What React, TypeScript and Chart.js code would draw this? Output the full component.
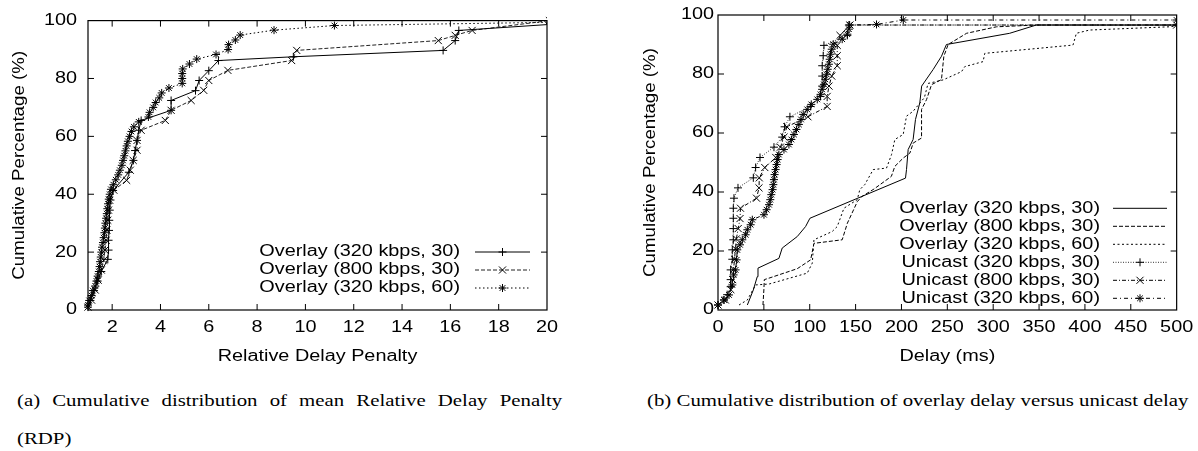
import React, { useEffect, useRef } from 'react';
import { Chart, registerables } from 'chart.js';
import { drawPoint } from 'chart.js/helpers';

Chart.register(...registerables);

type Pt = [number, number];

// ---------- tick values ----------
const RDP_TICKS = [2, 4, 6, 8, 10, 12, 14, 16, 18, 20];
const PCT_TICKS = [0, 20, 40, 60, 80, 100];
const DELAY_TICKS = [0, 50, 100, 150, 200, 250, 300, 350, 400, 450, 500];

// ---------- (a) Relative Delay Penalty CDF ----------
const RDP_320_30: Pt[] = [
  [1.0, 1.0], [1.1, 3.3], [1.25, 6.7], [1.4, 10.0], [1.55, 13.3], [1.82, 17.5], [1.85, 20.7], [1.85, 24.1],
  [1.87, 27.5], [1.88, 31.0], [1.9, 34.5], [1.93, 38.0], [2.04, 41.3], [2.69, 47.6], [2.88, 51.7], [2.95, 55.1],
  [3.03, 58.6], [3.1, 62.1], [3.2, 65.5], [4.44, 69.0], [4.44, 72.4], [5.45, 75.8], [5.6, 79.3], [6.0, 82.7],
  [6.4, 86.2], [9.5, 87.5], [15.7, 89.7], [16.2, 93.1], [16.35, 96.6], [22.5, 100],
];
const RDP_800_30: Pt[] = [
  [1.0, 1.0], [1.15, 3.4], [1.3, 6.9], [1.42, 10.3], [1.55, 13.8], [1.65, 17.2], [1.7, 20.7], [1.75, 24.1],
  [1.78, 27.6], [1.82, 31.0], [1.85, 34.5], [1.9, 37.9], [2.07, 41.4], [2.6, 44.8], [2.75, 48.3], [2.87, 51.7],
  [3.03, 55.2], [3.03, 58.6], [3.2, 62.1], [4.2, 65.5], [4.44, 69.0], [5.27, 72.4], [5.79, 75.9], [6.0, 79.3],
  [6.79, 82.8], [9.43, 86.2], [9.64, 89.7], [15.5, 93.1], [16.2, 94.9], [16.9, 96.6], [20.1, 100],
];
const RDP_320_60: Pt[] = [
  [1.0, 1.7], [1.05, 3.3], [1.15, 5.0], [1.2, 6.7], [1.3, 8.3], [1.35, 10.0], [1.4, 11.7], [1.45, 13.3],
  [1.48, 15.0], [1.5, 16.7], [1.53, 18.3], [1.55, 20.0], [1.58, 21.7], [1.62, 23.3], [1.65, 25.0], [1.68, 26.7],
  [1.7, 28.3], [1.72, 30.0], [1.75, 31.7], [1.78, 33.3], [1.8, 35.0], [1.83, 36.7], [1.86, 38.3], [1.9, 40.0],
  [1.95, 41.7], [2.05, 43.3], [2.15, 45.0], [2.25, 46.7], [2.32, 48.3], [2.4, 50.0], [2.45, 51.7], [2.5, 53.3],
  [2.55, 55.0], [2.6, 56.7], [2.65, 58.3], [2.72, 60.0], [2.8, 61.7], [2.9, 63.3], [3.1, 65.0], [3.5, 66.7],
  [3.55, 68.3], [3.7, 70.0], [3.8, 71.7], [3.95, 73.3], [4.05, 75.0], [4.35, 76.7], [4.9, 78.3], [4.9, 80.0],
  [4.9, 81.7], [4.92, 83.3], [5.2, 85.0], [5.5, 86.7], [6.3, 88.3], [6.8, 90.0], [6.82, 91.7], [7.1, 93.3],
  [7.3, 95.0], [8.7, 96.7], [11.2, 98.3], [25, 100],
];

// ---------- (b) Delay CDF ----------
const OVL_320_30: Pt[] = [
  [32, 1.7], [38.5, 6.8], [42.8, 11.3], [43.6, 14.2], [66.4, 17.5], [70, 21.0], [86.4, 24.9], [95.5, 28.3],
  [100.2, 31.1], [204.4, 44.7], [205.5, 47.6], [207.3, 54.4], [212.7, 57.8], [215.3, 64.6], [220, 70.2],
  [222, 75.9], [234.5, 81.5], [243.6, 86.0], [249, 90.0], [318, 93.8], [347, 96.6], [500, 96.6],
];
const OVL_800_30: Pt[] = [
  [49, 1.7], [50, 6.8], [50.5, 10.3], [55.6, 10.8], [86.4, 14.0], [101, 17.0], [104.6, 22.6], [135.4, 23.8],
  [141, 29.4], [152, 36.8], [157, 38.5], [170, 41.0], [189, 45.3], [192.8, 48.7], [201.9, 51.5], [209.2, 53.2],
  [212.8, 56.6], [221.9, 58.3], [221.9, 68.0], [227.3, 71.3], [231, 74.7], [232.8, 76.4], [243.6, 78.1],
  [246.2, 86.0], [250.9, 90.0], [271, 93.8], [303.6, 96.0], [347, 96.6], [500, 96.6],
];
const OVL_320_60: Pt[] = [
  [22.9, 1.7], [32, 3.4], [41, 8.5], [55.6, 8.8], [97.3, 12.5], [102.8, 15.9], [104.6, 23.8], [124.5, 26.6],
  [130, 28.3], [137.3, 34.5], [151.8, 37.4], [154.6, 40.8], [160, 42.5], [169.2, 47.6], [183.7, 48.1],
  [189.2, 52.7], [192.8, 57.8], [201.9, 59.5], [205.5, 65.7], [212.8, 67.4], [225, 72.0], [229, 76.8],
  [245.4, 78.0], [265.5, 80.8], [269, 82.5], [289, 84.2], [290.8, 87.0], [387, 89.8], [390.7, 93.8],
  [405, 94.9], [492, 96.0], [500, 96.3],
];
const UNI_320_30: Pt[] = [
  [0, 1.7], [6.5, 3.4], [10, 5.2], [13.8, 7.9], [13.8, 10.3], [13.8, 13.6], [15.6, 17.2], [15.6, 20.4],
  [16.7, 23.8], [16.7, 27.6], [16.7, 31.1], [16.7, 34.5], [17.4, 37.9], [21.8, 41.4], [38.5, 44.8], [41, 48.3],
  [45.8, 51.7], [61, 55.2], [70, 58.6], [72.6, 62.1], [78.4, 65.5], [101, 69.0], [111.8, 72.4], [113.6, 75.9],
  [113.6, 79.3], [113.6, 82.8], [114.7, 86.2], [115.5, 89.7], [141, 93.1], [142.7, 96.6], [500, 96.6],
];
const UNI_800_30: Pt[] = [
  [0, 1.7], [8, 3.4], [14, 6.9], [16, 10.3], [17, 13.8], [18, 17.2], [19, 20.7], [20, 24.1], [22, 27.6],
  [24, 31.0], [24.5, 34.5], [42, 37.9], [44.7, 41.4], [45, 44.8], [51, 48.3], [63, 51.7], [68, 55.2], [72, 58.6],
  [75, 62.1], [98, 65.5], [119, 69.0], [119, 72.4], [121, 75.9], [124, 79.3], [130, 82.8], [130, 86.2],
  [130, 89.7], [133, 93.1], [143.8, 96.6], [500, 96.6],
];
const UNI_320_60: Pt[] = [
  [0, 1.7], [6.5, 3.4], [12, 5.1], [15.6, 8.5], [17, 11.9], [19.2, 13.6], [20.3, 17.0], [21, 20.4], [24, 22.1],
  [26.5, 23.8], [30.1, 25.5], [32, 27.2], [35.6, 28.9], [37.4, 30.6], [50.1, 32.3], [53, 34.0], [55.6, 35.7],
  [57, 37.4], [58.1, 39.1], [59.5, 40.8], [60.3, 42.5], [61, 44.2], [61.7, 45.9], [62.8, 47.6], [63.9, 49.3],
  [65, 51.0], [66.4, 52.7], [71.9, 54.4], [77.3, 56.1], [80, 57.8], [82.8, 59.5], [85.5, 61.2], [88.2, 62.9],
  [90.5, 64.6], [92.9, 66.3], [97.3, 68.0], [101.7, 69.7], [108.2, 71.4], [111.8, 73.1], [113.5, 74.8],
  [115.5, 76.5], [117, 78.2], [118.4, 79.9], [119.6, 81.6], [120.9, 83.3], [121.8, 85.0], [122.7, 86.7],
  [124, 88.4], [125.6, 90.1], [135.4, 91.8], [141, 93.5], [142.7, 95.2], [143.5, 96.6], [172.8, 96.8],
  [202, 98.3], [500, 98.3],
];

// ---------- text styling ----------
const SANS = '"Liberation Sans", Arial, Helvetica, sans-serif';
const SERIF = '"Liberation Serif", "Times New Roman", serif';
const TEXT_STRETCH = 1.24;
const ROT_STRETCH = 1.17;

Chart.defaults.font.family = SANS;
Chart.defaults.font.size = 16;
Chart.defaults.color = '#000';

function stretchText(ctx: any) {
  if (ctx.__stretched) return;
  ctx.__stretched = true;
  const orig = ctx.fillText.bind(ctx);
  ctx.fillText = (text: string, x: number, y: number) => {
    const t = ctx.getTransform();
    const s = Math.abs(t.b) > 1e-3 ? ROT_STRETCH : TEXT_STRETCH;
    ctx.save();
    ctx.translate(x, y);
    ctx.scale(s, 1);
    orig(text, 0, 0);
    ctx.restore();
  };
}

// frame with inward ticks on all four sides (gnuplot style)
const framePlugin = {
  id: 'gnuframe',
  afterDatasetsDraw(chart: any) {
    const { ctx, chartArea: a, scales } = chart;
    const L = 6;
    ctx.save();
    ctx.setLineDash([]);
    ctx.strokeStyle = '#000';
    ctx.lineWidth = 1.2;
    ctx.strokeRect(a.left, a.top, a.right - a.left, a.bottom - a.top);
    ctx.lineWidth = 1;
    ctx.beginPath();
    for (const t of scales.x.ticks) {
      const p = scales.x.getPixelForValue(t.value);
      if (p <= a.left + 1 || p >= a.right - 1) continue;
      ctx.moveTo(p, a.bottom); ctx.lineTo(p, a.bottom - L);
      ctx.moveTo(p, a.top); ctx.lineTo(p, a.top + L);
    }
    for (const t of scales.y.ticks) {
      const p = scales.y.getPixelForValue(t.value);
      if (p <= a.top + 1 || p >= a.bottom - 1) continue;
      ctx.moveTo(a.left, p); ctx.lineTo(a.left + L, p);
      ctx.moveTo(a.right, p); ctx.lineTo(a.right - L, p);
    }
    ctx.stroke();
    ctx.restore();
  },
};

// gnuplot-like key: right-aligned text, sample line (with marker) to its right
const keyPlugin = {
  id: 'gnukey',
  afterDraw(chart: any, _args: any, opts: any) {
    const { ctx } = chart;
    ctx.save();
    chart.data.datasets.forEach((ds: any, i: number) => {
      const y = opts.rowTop + i * opts.rowStep;
      ctx.font = `16px ${SANS}`;
      ctx.fillStyle = '#000';
      ctx.textAlign = 'right';
      ctx.textBaseline = 'middle';
      ctx.fillText(ds.label, opts.textRight, y);
      ctx.strokeStyle = ds.borderColor;
      ctx.lineWidth = ds.borderWidth;
      ctx.setLineDash(ds.borderDash || []);
      ctx.beginPath();
      ctx.moveTo(opts.sampleLeft, y);
      ctx.lineTo(opts.sampleRight, y);
      ctx.stroke();
      ctx.setLineDash([]);
      if (ds.pointRadius > 0) {
        ctx.fillStyle = 'rgba(0,0,0,0)';
        ctx.strokeStyle = ds.pointBorderColor;
        ctx.lineWidth = 1;
        drawPoint(ctx, { pointStyle: ds.pointStyle, radius: ds.pointRadius, rotation: 0, borderWidth: 1 } as any,
          (opts.sampleLeft + opts.sampleRight) / 2, y);
      }
    });
    ctx.restore();
  },
};

function series(label: string, data: Pt[], dash: number[], pointStyle: string | false, radius: number, color = '#000') {
  return {
    label,
    data: data.map(([x, y]) => ({ x, y })),
    borderColor: color,
    borderWidth: 1,
    borderDash: dash,
    pointStyle: pointStyle || 'circle',
    pointRadius: pointStyle ? radius : 0,
    pointHoverRadius: pointStyle ? radius : 0,
    pointBorderColor: '#000',
    pointBackgroundColor: 'rgba(0,0,0,0)',
    pointBorderWidth: 1,
    tension: 0,
    fill: false,
    clip: { left: 8, top: 8, right: 0, bottom: 8 },
  };
}

function axisCommon(extra: any) {
  return {
    type: 'linear',
    grid: { display: false, drawTicks: false },
    border: { display: false },
    ...extra,
  };
}

function configA(): any {
  return {
    type: 'line',
    data: {
      datasets: [
        series('Overlay (320 kbps, 30)', RDP_320_30, [], 'cross', 4),
        series('Overlay (800 kbps, 30)', RDP_800_30, [4, 2], 'crossRot', 5, '#222'),
        series('Overlay (320 kbps, 60)', RDP_320_60, [1.5, 2.5], 'star', 4),
      ],
    },
    options: {
      responsive: false,
      animation: false,
      devicePixelRatio: 1,
      events: [],
      layout: { padding: { left: 0, top: 15, right: 53, bottom: 0 } },
      plugins: {
        legend: { display: false },
        tooltip: { enabled: false },
        gnukey: { textRight: 460, sampleLeft: 475, sampleRight: 530, rowTop: 252, rowStep: 18 },
      },
      scales: {
        x: axisCommon({
          min: 1, max: 20,
          afterBuildTicks: (s: any) => { s.ticks = RDP_TICKS.map((v) => ({ value: v })); },
          afterFit: (s: any) => { s.height = 60; },
          ticks: { padding: 8, maxRotation: 0, autoSkip: false, color: '#000', font: { size: 16 } },
          title: { display: true, text: 'Relative Delay Penalty', color: '#000', font: { size: 16 }, padding: { top: 0, bottom: 4 } },
        }),
        y: axisCommon({
          min: 0, max: 100,
          afterBuildTicks: (s: any) => { s.ticks = PCT_TICKS.map((v) => ({ value: v })); },
          afterFit: (s: any) => { s.width = 88; },
          ticks: { padding: 11, autoSkip: false, color: '#000', font: { size: 16 } },
          title: { display: true, text: 'Cumulative Percentage (%)', color: '#000', font: { size: 16 }, padding: { top: 9.5, bottom: 0 } },
        }),
      },
    },
    plugins: [framePlugin, keyPlugin],
  };
}

function configB(): any {
  return {
    type: 'line',
    data: {
      datasets: [
        series('Overlay (320 kbps, 30)', OVL_320_30, [], false, 0),
        series('Overlay (800 kbps, 30)', OVL_800_30, [4, 2], false, 0),
        series('Overlay (320 kbps, 60)', OVL_320_60, [2, 2.5], false, 0),
        series('Unicast (320 kbps, 30)', UNI_320_30, [1, 1.5], 'cross', 4, '#333'),
        series('Unicast (800 kbps, 30)', UNI_800_30, [4, 2, 1, 2], 'crossRot', 5),
        series('Unicast (320 kbps, 60)', UNI_320_60, [4, 3, 1, 3], 'star', 4),
      ],
    },
    options: {
      responsive: false,
      animation: false,
      devicePixelRatio: 1,
      events: [],
      layout: { padding: { left: 0, top: 15, right: 21, bottom: 0 } },
      plugins: {
        legend: { display: false },
        tooltip: { enabled: false },
        gnukey: { textRight: 500, sampleLeft: 513, sampleRight: 567, rowTop: 208.3, rowStep: 18 },
      },
      scales: {
        x: axisCommon({
          min: 0, max: 500,
          afterBuildTicks: (s: any) => { s.ticks = DELAY_TICKS.map((v) => ({ value: v })); },
          afterFit: (s: any) => { s.height = 60; },
          ticks: { padding: 8, maxRotation: 0, autoSkip: false, color: '#000', font: { size: 16 } },
          title: { display: true, text: 'Delay (ms)', color: '#000', font: { size: 16 }, padding: { top: 0, bottom: 4 } },
        }),
        y: axisCommon({
          min: 0, max: 100,
          afterBuildTicks: (s: any) => { s.ticks = PCT_TICKS.map((v) => ({ value: v })); },
          afterFit: (s: any) => { s.width = 118; },
          ticks: { padding: 4, autoSkip: false, color: '#000', font: { size: 16 } },
          title: { display: true, text: 'Cumulative Percentage (%)', color: '#000', font: { size: 16 }, padding: { top: 40.5, bottom: 0 } },
        }),
      },
    },
    plugins: [framePlugin, keyPlugin],
  };
}

function ChartCanvas({ make, left, width, height }: { make: () => any; left: number; width: number; height: number }) {
  const ref = useRef<HTMLCanvasElement>(null);
  useEffect(() => {
    const canvas = ref.current!;
    const ctx = canvas.getContext('2d')!;
    stretchText(ctx);
    const chart = new Chart(ctx, make());
    return () => chart.destroy();
  }, []);
  return (
    <canvas
      ref={ref}
      width={width}
      height={height}
      style={{ position: 'absolute', left, top: 0, width, height, display: 'block' }}
    />
  );
}

const CAP_STRETCH = 1.225;

export default function App() {
  return (
    <div style={{ position: 'fixed', left: 0, top: 0, width: 1198, height: 451, background: '#fff', overflow: 'hidden' }}>
      <ChartCanvas make={configA} left={0} width={600} height={370} />
      <ChartCanvas make={configB} left={600} width={598} height={370} />
      <div
        style={{
          position: 'absolute', left: 17, top: 382, width: 445,
          font: `17px ${SERIF}`, lineHeight: '38px', textAlign: 'justify', color: '#000',
          transform: `scaleX(${CAP_STRETCH})`, transformOrigin: 'left top',
        }}
      >
        (a) Cumulative distribution of mean Relative Delay Penalty (RDP)
      </div>
      <div
        style={{
          position: 'absolute', left: 647, top: 382, whiteSpace: 'nowrap',
          font: `17px ${SERIF}`, lineHeight: '38px', color: '#000',
          transform: `scaleX(${CAP_STRETCH})`, transformOrigin: 'left top',
        }}
      >
        (b) Cumulative distribution of overlay delay versus unicast delay
      </div>
    </div>
  );
}
